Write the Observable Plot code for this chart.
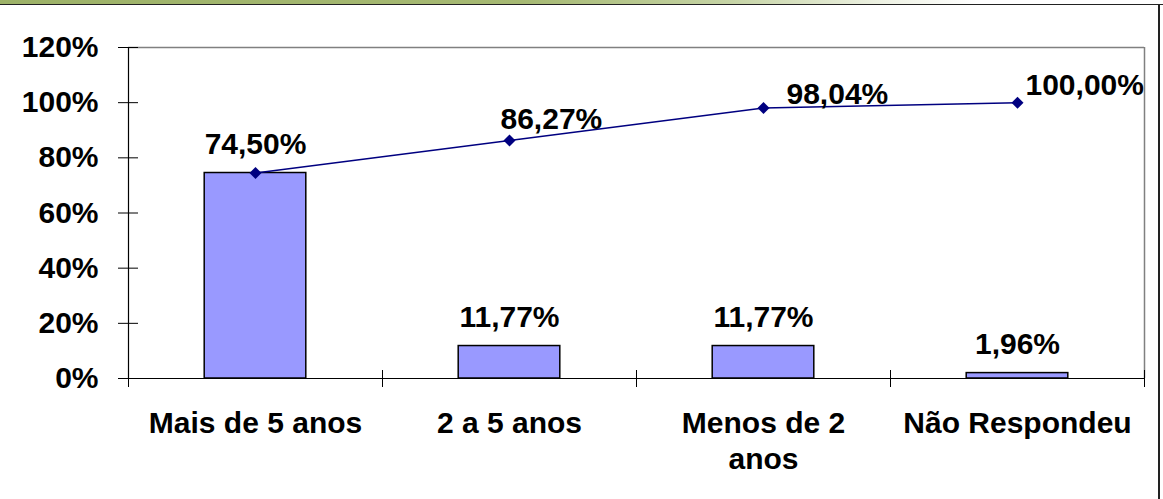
<!DOCTYPE html>
<html><head><meta charset="utf-8">
<script src="https://cdn.jsdelivr.net/npm/d3@7"></script>
<script src="https://cdn.jsdelivr.net/npm/@observablehq/plot@0.6"></script>
<style>
body{margin:0;background:#fff}
#wrap{position:relative;width:1163px;height:499px;overflow:hidden}
#wrap svg{position:absolute;left:0;top:0}
#band{position:absolute;left:0;top:0;width:1163px;height:4px;background:linear-gradient(to right,#9db268 0%,#a6b973 45%,#c6d4a6 63%,#eef2e4 76%,#ffffff 84%);border-bottom:1.5px solid #222}
#rb{position:absolute;left:1158px;top:5px;width:1.5px;height:494px;background:#222}
</style></head><body><div id="wrap"></div>
<script>
const categories = ["Mais de 5 anos", "2 a 5 anos", "Menos de 2\nanos", "Não Respondeu"];
const barValues = [74.50, 11.77, 11.77, 1.96];
const cumulativeValues = [74.50, 86.27, 98.04, 100.00];
const yTicks = [0, 20, 40, 60, 80, 100, 120];

const data = categories.map((c, i) => ({i, c, bar: barValues[i], cum: cumulativeValues[i]}));
const fmt = v => v.toFixed(2).replace(".", ",") + "%";
const boundaries = d3.range(categories.length + 1).map(k => k - 0.5);

const navy = "#000080";
// per-label nudges for the cumulative labels (Excel-style placement)
const lineLabelNudge = {1: [-9, -21], 2: [23, -14], 3: [8, -17]};

const marks = [
  Plot.ruleY([120], {stroke: "#808080", strokeWidth: 1.5}),
  Plot.ruleX([categories.length - 0.5], {stroke: "#808080", strokeWidth: 1.5}),
  Plot.rect(data, {x1: d => d.i - 0.2, x2: d => d.i + 0.2, y1: 0, y2: "bar", fill: "#9999ff", stroke: "#000", strokeWidth: 1.5}),
  Plot.ruleX([-0.5], {stroke: "#000", strokeWidth: 1.2}),
  Plot.ruleY([0], {stroke: "#000", strokeWidth: 1.2}),
  Plot.axisY(yTicks, {tickSize: 20, dx: 10, fill: "none", stroke: "#000", label: null}),
  Plot.axisY(yTicks, {tickSize: 0, tickPadding: 30, tickFormat: d => d + "%", label: null}),
  Plot.axisX(boundaries, {tickSize: 17, dy: -8, fill: "none", stroke: "#000", label: null}),
  Plot.axisX(d3.range(categories.length), {tickSize: 0, tickPadding: 29, lineHeight: 1.2, tickFormat: i => categories[i], label: null}),
  Plot.line(data, {x: "i", y: "cum", stroke: navy, strokeWidth: 1.5}),
  Plot.dot(data, {x: "i", y: "cum", symbol: "diamond2", r: 5.4, fill: navy, stroke: "none"}),
  Plot.text(data, {x: "i", y: "bar", text: d => fmt(d.bar), dy: -29, fill: "#000"})
];
for (const [k, [dx, dy]] of Object.entries(lineLabelNudge)) {
  marks.push(Plot.text(data.filter(d => d.i === +k), {x: "i", y: "cum", text: d => fmt(d.cum), textAnchor: "start", dx, dy, fill: "#000"}));
}

const chart = Plot.plot({
  width: 1163,
  height: 499,
  marginLeft: 128,
  marginRight: 19,
  marginTop: 47,
  marginBottom: 121,
  x: {type: "linear", domain: [-0.5, categories.length - 0.5], axis: null},
  y: {domain: [0, 120], axis: null},
  style: {fontFamily: "'Liberation Sans', Arial, sans-serif", fontSize: "30px", fontWeight: "bold", color: "#000", background: "transparent"},
  marks
});
const wrap = document.getElementById("wrap");
wrap.appendChild(chart);
const band = document.createElement("div"); band.id = "band"; wrap.appendChild(band);
const rb = document.createElement("div"); rb.id = "rb"; wrap.appendChild(rb);
</script>
</body></html>
